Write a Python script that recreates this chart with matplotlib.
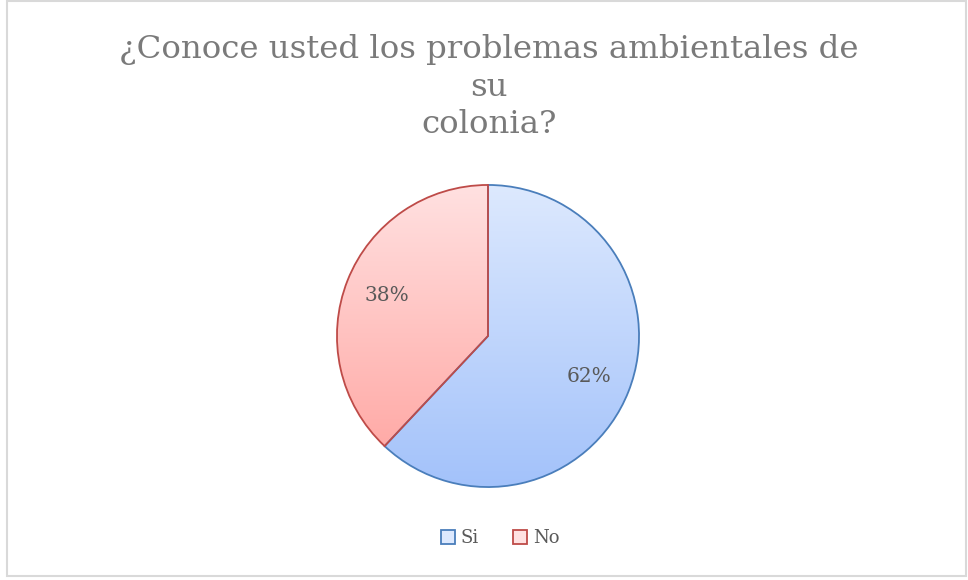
import matplotlib
matplotlib.use("Agg")
import matplotlib.pyplot as plt
import numpy as np
from matplotlib.patches import Rectangle
from matplotlib.colors import LinearSegmentedColormap

labels = ["Si", "No"]
values = [62, 38]
title = "¿Conoce usted los problemas ambientales de\nsu\ncolonia?"

edge_colors = ["#4a7ebb", "#be4b48"]
top_colors = ["#dde9fe", "#ffe1e1"]
bottom_colors = ["#a3c2fa", "#ffa29e"]

plt.rcParams['font.family'] = ['DejaVu Serif']

fig = plt.figure(figsize=(9.68, 5.8), dpi=100)
fig.patch.set_facecolor("white")

# outer frame
fig.patches.append(Rectangle((7/968, 4/580), 959/968, 575/580, transform=fig.transFigure,
                             fill=False, edgecolor="#d9d9d9", linewidth=1.5))

cx, cy, r = 488, 580-336, 151
ax = fig.add_axes([(cx - r - 2)/968, (cy - r - 2)/580, (2*r + 4)/968, (2*r + 4)/580])
wedges, texts, autotexts = ax.pie(values, startangle=90, counterclock=False,
                                  autopct='%1.0f%%', pctdistance=0.72,
                                  wedgeprops=dict(linewidth=1.3),
                                  textprops=dict(fontsize=14.5, color="#595959"))
for i, w in enumerate(wedges):
    w.set_facecolor("none")
    w.set_edgecolor(edge_colors[i])
    cmap = LinearSegmentedColormap.from_list("g%d" % i, [bottom_colors[i], top_colors[i]])
    grad = np.linspace(0, 1, 256).reshape(-1, 1)
    im = ax.imshow(grad, extent=[-1, 1, -1, 1], origin='lower', cmap=cmap,
                   aspect='auto', zorder=0)
    im.set_clip_path(w)
ax.set_xlim(-1.013, 1.013)
ax.set_ylim(-1.013, 1.013)
ax.axis('off')

fig.text(489/968, 1 - 87/580, title, ha='center', va='center', fontsize=23.3,
         color="#7a7a7a", linespacing=1.28)

# legend
handles = [Rectangle((0, 0), 1, 1, facecolor=(top_colors[i]), edgecolor=edge_colors[i], linewidth=1.3)
           for i in range(2)]
fig.legend(handles, labels, loc='center', bbox_to_anchor=(500/968, 1 - 538/580), ncol=2,
           frameon=False, fontsize=13, labelcolor="#595959", handlelength=0.8,
           handleheight=0.8, handletextpad=0.3, columnspacing=1.9)

fig.savefig("out.png", dpi=100)
